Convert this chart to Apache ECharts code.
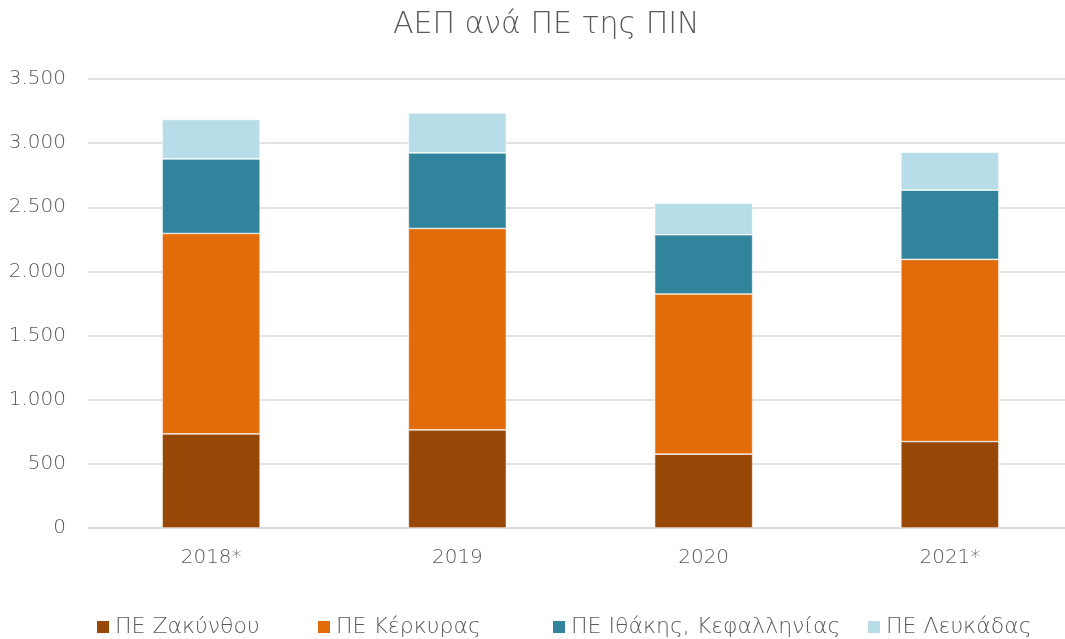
<!DOCTYPE html>
<html>
<head>
<meta charset="utf-8">
<script src="https://cdn.jsdelivr.net/npm/echarts@6/dist/echarts.min.js"></script>
<style>
  html, body { margin: 0; padding: 0; background: #fff; }
  #chart { width: 1065px; height: 639px; }
</style>
</head>
<body>
<div id="chart"></div>
<script>
const categories = ["2018*", "2019", "2020", "2021*"]
const zakynthos = [734, 765, 576, 674]
const kerkyra = [1562, 1570, 1248, 1420]
const ithakiKefallinia = [581, 589, 462, 540]
const lefkada = [307, 311, 246, 295]

const seriesNames = ["ΠΕ Ζακύνθου", "ΠΕ Κέρκυρας", "ΠΕ Ιθάκης, Κεφαλληνίας", "ΠΕ Λευκάδας"]
const seriesColors = ["#974706", "#E36C0A", "#31849B", "#B7DDE8"]
const seriesData = [zakynthos, kerkyra, ithakiKefallinia, lefkada]
const legendLeft = [90, 311, 546, 861]

const textColor = "#595959"
const fontFamily = "'DejaVu Sans', sans-serif"

const myChart = echarts.init(document.getElementById("chart"))

const option = {
  animation: false,
  textStyle: { fontFamily: fontFamily },
  title: {
    text: "ΑΕΠ ανά ΠΕ της ΠΙΝ",
    left: 388,
    top: 5,
    textStyle: { color: textColor, fontSize: 30, fontWeight: 200, fontFamily: fontFamily },
  },
  // one legend per series so each item sits where it does in the original
  legend: seriesNames.map((name, i) => ({
    left: legendLeft[i],
    top: 611,
    itemWidth: 14,
    itemHeight: 14,
    itemGap: 6,
    icon: "rect",
    textStyle: { color: textColor, fontSize: 22, fontWeight: 200 },
    data: [name],
  })),
  // plot area runs a little past the right edge, as in the original
  grid: { left: 88, width: 985, top: 79, bottom: 111, outerBoundsMode: "none" },
  xAxis: {
    type: "category",
    data: categories,
    axisTick: { show: false },
    axisLine: { lineStyle: { color: "#d9d9d9", width: 1.5 } },
    axisLabel: { color: textColor, fontSize: 20, margin: 20, fontWeight: 200 },
  },
  yAxis: {
    type: "value",
    min: 0,
    max: 3500,
    interval: 500,
    axisLine: { show: false },
    axisTick: { show: false },
    splitLine: { lineStyle: { color: "#d9d9d9", width: 1.5 } },
    axisLabel: {
      color: textColor,
      fontSize: 20,
      margin: 22,
      fontWeight: 200,
      formatter: (v) => v.toLocaleString("de-DE"),
    },
  },
  series: seriesNames.map((name, i) => ({
    name: name,
    type: "bar",
    stack: "total",
    barWidth: 98,
    data: seriesData[i],
    itemStyle: { color: seriesColors[i], borderColor: "#ffffff", borderWidth: 0.6 },
  })),
}

myChart.setOption(option)
</script>
</body>
</html>
